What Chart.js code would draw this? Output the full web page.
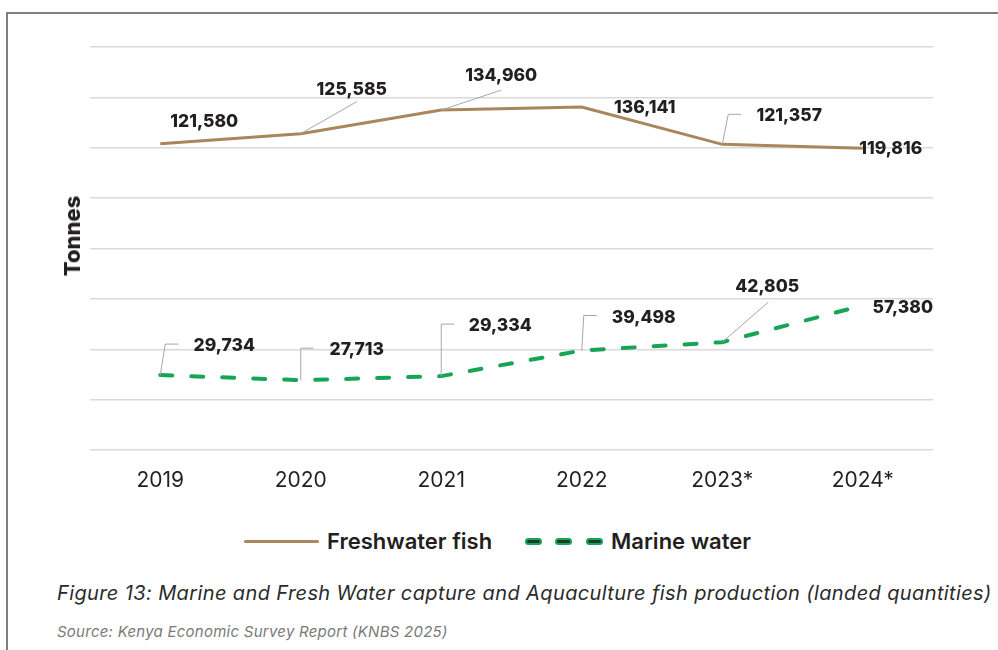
<!DOCTYPE html>
<html>
<head>
<meta charset="utf-8">
<script src="https://cdn.jsdelivr.net/npm/chart.js@4.4.1/dist/chart.umd.min.js"></script>
<style>
  body { margin: 0; background: #fff; width: 998px; height: 650px; overflow: hidden; position: relative; font-family: Inter, Roboto, sans-serif; color: #231f20; }
  #frame { position: absolute; left: 6px; top: 12px; width: 1000px; height: 700px; border-left: 2px solid #7f7f7f; border-top: 2px solid #7f7f7f; }
  #wrap { position: absolute; left: 0; top: 0; width: 998px; height: 500px; }
  #ytitle { position: absolute; left: 72px; top: 236px; transform: translate(-50%, -50%) rotate(-90deg); font: 800 22px Inter, sans-serif; white-space: nowrap; }
  .leg { position: absolute; top: 528px; font: 600 22px Inter, sans-serif; white-space: nowrap; }
  .solid { position: absolute; left: 244px; top: 540px; width: 75px; height: 3px; background: #a9865b; border-radius: 2px; }
  .dash { position: absolute; top: 538px; width: 13px; height: 3px; background: #1d3a2a; border: 2px solid #16a556; border-radius: 4px; }
  #caption { position: absolute; left: 57px; top: 581px; font: italic 400 20px Inter, sans-serif; letter-spacing: 0.38px; color: #2b2b2b; white-space: nowrap; }
  #source { position: absolute; left: 57px; top: 622px; font: italic 400 15px Inter, sans-serif; letter-spacing: 0.25px; color: #7a7a7a; white-space: nowrap; }
</style>
</head>
<body>
<div id="frame"></div>
<div id="wrap"><canvas id="chart"></canvas></div>
<div id="ytitle">Tonnes</div>
<div class="solid"></div>
<div class="leg" style="left:327px">Freshwater fish</div>
<div class="dash" style="left:525px"></div>
<div class="dash" style="left:555px"></div>
<div class="dash" style="left:586px"></div>
<div class="leg" style="left:611px">Marine water</div>
<div id="caption">Figure 13: Marine and Fresh Water capture and Aquaculture fish production (landed quantities)</div>
<div id="source">Source: Kenya Economic Survey Report (KNBS 2025)</div>
<script>
const years = ['2019', '2020', '2021', '2022', '2023*', '2024*'];
const freshwater = [121580, 125585, 134960, 136141, 121357, 119816];
const marine = [29734, 27713, 29334, 39498, 42805, 57380];

// where each value label sits relative to its point, and its leader line
const freshLabelPos = [
  { dx: 44, dy: -22 },
  { dx: 51, dy: -44, line: [56, -32] },
  { dx: 60, dy: -34, line: [60, -20] },
  { dx: 63, dy: 1 },
  { dx: 67, dy: -29, elbow: [6, -30, 19] },
  { dx: 28, dy: 1 }
];
const marineLabelPos = [
  { dx: 64, dy: -29, elbow: [5, -31, 18] },
  { dx: 56, dy: -30, elbow: [0, -32, 13] },
  { dx: 59, dy: -50, elbow: [0, -52, 13] },
  { dx: 62, dy: -33, elbow: [2, -35, 15] },
  { dx: 45, dy: -55, line: [46, -40] },
  { dx: 40, dy: 2 }
];

const valueLabels = {
  id: 'valueLabels',
  afterDatasetsDraw(chart) {
    const ctx = chart.ctx;
    const layouts = [freshLabelPos, marineLabelPos];
    chart.data.datasets.forEach(function (ds, i) {
      const meta = chart.getDatasetMeta(i);
      meta.data.forEach(function (pt, j) {
        const p = layouts[i][j];
        ctx.save();
        ctx.strokeStyle = '#a6a6a6';
        ctx.lineWidth = 1;
        if (p.line) {
          ctx.beginPath();
          ctx.moveTo(pt.x, pt.y);
          ctx.lineTo(pt.x + p.line[0], pt.y + p.line[1]);
          ctx.stroke();
        }
        if (p.elbow) {
          ctx.beginPath();
          ctx.moveTo(pt.x, pt.y);
          ctx.lineTo(pt.x + p.elbow[0], pt.y + p.elbow[1]);
          ctx.lineTo(pt.x + p.elbow[2], pt.y + p.elbow[1]);
          ctx.stroke();
        }
        ctx.fillStyle = '#231f20';
        ctx.font = '800 17.5px Inter, sans-serif';
        ctx.textAlign = 'center';
        ctx.textBaseline = 'middle';
        ctx.fillText(ds.data[j].toLocaleString('en-US'), pt.x + p.dx, pt.y + p.dy);
        ctx.restore();
      });
    });
  }
};

new Chart(document.getElementById('chart'), {
  type: 'line',
  data: {
    labels: years,
    datasets: [{
      label: 'Freshwater fish',
      data: freshwater,
      borderColor: '#a9865b',
      borderWidth: 3,
      pointRadius: 0,
      tension: 0
    }, {
      label: 'Marine water',
      data: marine,
      borderColor: '#16a556',
      borderWidth: 4,
      borderDash: [12, 19],
      borderCapStyle: 'round',
      pointRadius: 0,
      tension: 0
    }]
  },
  options: {
    responsive: true,
    maintainAspectRatio: false,
    animation: false,
    layout: { padding: { left: 90, right: 65, top: 47, bottom: 0 } },
    plugins: { legend: { display: false }, tooltip: { enabled: false } },
    scales: {
      x: {
        offset: true,
        grid: { display: false },
        border: { display: false },
        ticks: { color: '#231f20', font: { family: 'Inter', size: 21 }, padding: 10 },
        afterFit: function (axis) { axis.height = 50; }
      },
      y: {
        min: 0,
        max: 160000,
        ticks: { display: false, stepSize: 20000 },
        grid: { color: '#d9d9d9', lineWidth: 1.5, drawTicks: false },
        border: { display: false },
        afterFit: function (axis) { axis.width = 0; }
      }
    }
  },
  plugins: [valueLabels]
});
</script>
</body>
</html>
